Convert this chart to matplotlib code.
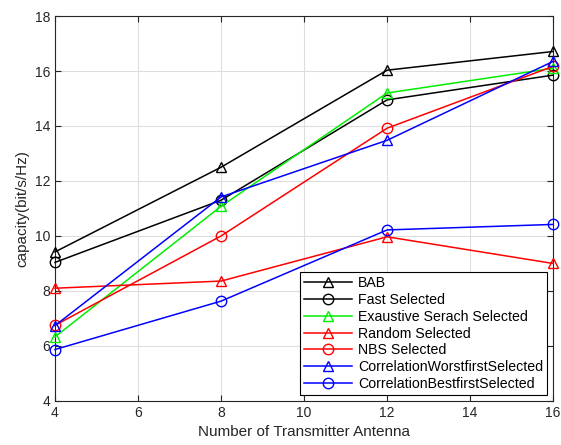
import matplotlib
matplotlib.use("Agg")
import matplotlib.pyplot as plt

plt.rcParams['font.family'] = ['Liberation Sans', 'DejaVu Sans']

# antenna counts and capacity values
antennas = [4, 8, 12, 16]
bab = [9.42, 12.5, 16.03, 16.71]
fast_sel = [9.04, 11.3, 14.95, 15.85]
exhaustive = [6.33, 11.08, 15.2, 16.1]
random_sel = [8.1, 8.36, 9.97, 9.0]
nbs = [6.75, 10.0, 13.92, 16.17]
corr_worst = [6.74, 11.42, 13.48, 16.35]
corr_best = [5.87, 7.63, 10.22, 10.42]

series = [
    ('BAB', bab, 'k', '^'),
    ('Fast Selected', fast_sel, 'k', 'o'),
    ('Exaustive Serach Selected', exhaustive, '#00ee00', '^'),
    ('Random Selected', random_sel, 'r', '^'),
    ('NBS Selected', nbs, 'r', 'o'),
    ('CorrelationWorstfirstSelected', corr_worst, 'b', '^'),
    ('CorrelationBestfirstSelected', corr_best, 'b', 'o'),
]

fig = plt.figure(figsize=(5.61, 4.45), dpi=100)
ax = fig.add_axes([0.098, 0.099, 0.888, 0.865])

for label, vals, col, mk in series:
    ax.plot(antennas, vals, color=col, marker=mk, markersize=7.5,
            markerfacecolor='none', markeredgecolor=col, linewidth=1.1,
            label=label, clip_on=False, zorder=3)

ax.set_xlim(4, 16)
ax.set_ylim(4, 18)
ax.set_xticks([4, 6, 8, 10, 12, 14, 16])
ax.set_yticks([4, 6, 8, 10, 12, 14, 16, 18])
ax.grid(True, color='#dddddd', linewidth=0.8)
ax.tick_params(direction='in', top=True, right=True, labelsize=10, colors='#262626',
               length=4)
for s in ax.spines.values():
    s.set_color('#262626')
    s.set_linewidth(0.8)

ax.set_xlabel('Number of Transmitter Antenna', fontsize=11, color='#262626')
ax.set_ylabel('capacity(bit/s/Hz)', fontsize=11, color='#262626')

leg = ax.legend(loc='lower right', fontsize=10.2, fancybox=False, framealpha=1,
                edgecolor='k', borderaxespad=0.4, handlelength=3.4,
                labelspacing=0.2, borderpad=0.3, handletextpad=0.4)
leg.set_zorder(5)
leg.get_frame().set_linewidth(0.8)

fig.savefig('out.png', dpi=100)
